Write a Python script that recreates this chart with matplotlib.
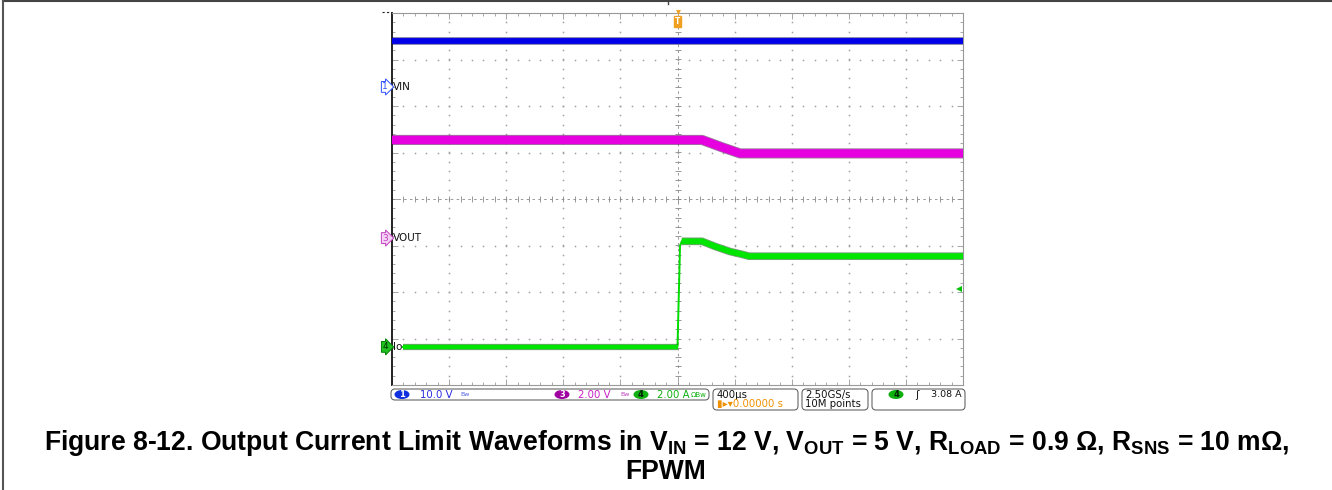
import numpy as np
import matplotlib.pyplot as plt
from matplotlib.patches import FancyBboxPatch, Ellipse
from matplotlib.lines import Line2D
import matplotlib.transforms as mtransforms

plt.rcParams['font.family'] = ['DejaVu Sans']
plt.rcParams['mathtext.fontset'] = 'custom'
plt.rcParams['mathtext.rm'] = 'Liberation Sans:bold'
plt.rcParams['mathtext.it'] = 'Liberation Sans:bold'
plt.rcParams['mathtext.bf'] = 'Liberation Sans:bold'

# time in us (400 us/div, trigger at 0); traces in screen divisions
vin_t = [-2000, 2000]
vin = [3.40, 3.40]

vout_t = [-2000, 172, 305, 438, 2000]
vout = [1.27, 1.27, 1.12, 0.98, 0.98]

io_t = [-1925, 0, 8, 18, 30, 172, 263, 368, 452, 500, 2000]
io = [-3.18, -3.18, -2.2, -1.0, -0.91, -0.91, -1.02, -1.13, -1.19, -1.23, -1.23]

ch_names = ['1', '3', '4']
ch_labels = ['VIN', 'VOUT', 'Io']
ch_gnd = [2.41, -0.84, -3.18]
trig_level = -1.94

W, H = 1332, 490
fig = plt.figure(figsize=(W / 100, H / 100), dpi=100)
ax = fig.add_axes([392 / W, 1 - 385 / H, (963 - 392) / W, (385 - 13) / H])
ax.set_xlim(-2000, 2000)
ax.set_ylim(-4, 4)

# graticule
grid_c = '#a0a0a0'
xmin_ = np.arange(-2000, 2001, 80)
ymin_ = np.arange(-4, 4.01, 0.2)
for gy in range(-3, 4):
    if gy == 0:
        continue
    ax.plot(xmin_, np.full_like(xmin_, gy, dtype=float), ls='none', marker='s', ms=1.1, color=grid_c, mew=0)
for gx in range(-1600, 2000, 400):
    if gx == 0:
        continue
    ax.plot(np.full_like(ymin_, gx), ymin_, ls='none', marker='s', ms=1.1, color=grid_c, mew=0)
ax.axhline(0, color='#888888', lw=0.6, ls=(0, (3, 4)))
ax.axvline(0, color='#888888', lw=0.6, ls=(0, (3, 4)))
ax.plot(xmin_, np.zeros_like(xmin_, dtype=float), ls='none', marker='|', ms=4, mew=0.6, color='#888888')
ax.plot(np.zeros_like(ymin_), ymin_, ls='none', marker='_', ms=4, mew=0.6, color='#888888')

ax.set_xticks(np.arange(-2000, 2001, 400))
ax.set_yticks(np.arange(-4, 5, 1))
ax.set_xticks(xmin_, minor=True)
ax.set_yticks(ymin_, minor=True)
ax.tick_params(which='both', direction='in', top=True, right=True, labelbottom=False, labelleft=False,
               color='#999999', width=0.6)
ax.tick_params(which='major', length=4)
ax.tick_params(which='minor', length=2.5)
for s in ['top', 'right', 'bottom']:
    ax.spines[s].set_color('#999999')
    ax.spines[s].set_linewidth(0.8)
ax.spines['left'].set_color('#222222')
ax.spines['left'].set_linewidth(1.4)


def band(t, y, color, edge, lw, z):
    ax.plot(t, y, color=edge, lw=lw + 1.3, alpha=0.55, solid_capstyle='butt', solid_joinstyle='round', zorder=z)
    ax.plot(t, y, color=color, lw=lw, solid_capstyle='butt', solid_joinstyle='round', zorder=z + 0.1)


band(vin_t, vin, '#0000e8', '#000060', 4.2, 3)
band(vout_t, vout, '#e600e0', '#500050', 6.0, 3)

io_t_a = np.array(io_t)
io_a = np.array(io)
pre = io_t_a <= 0
post = io_t_a >= 30
ax.plot(io_t_a, io_a, color='#00dd00', lw=1.4, zorder=3)
band(io_t_a[pre], io_a[pre], '#00e600', '#005000', 3.2, 3)
band(io_t_a[post], io_a[post], '#00e600', '#005000', 4.2, 3)

# trigger level arrow on right edge
ax.plot([1975], [trig_level], marker='<', ms=4.5, color='#00c000', mew=0, clip_on=False, zorder=5)

# channel ground markers
blend = mtransforms.blended_transform_factory(ax.transAxes, ax.transData)
mk_style = [('#3050ff', 'white', '#3050ff'), ('#c040c0', '#f4d0f4', '#c040c0'), ('#008000', '#20c020', '#003000')]
for name, lab, g, (ec, fc, tc) in zip(ch_names, ch_labels, ch_gnd, mk_style):
    ax.text(-0.012, g, name, transform=blend, ha='center', va='center', fontsize=6.5, color=tc,
            bbox=dict(boxstyle='rarrow,pad=0.1', fc=fc, ec=ec, lw=0.7), clip_on=False, zorder=6)
    ax.text(0.0015, g, lab, transform=blend, ha='left', va='center', fontsize=7.5, color='#111111', zorder=6)

# trigger position marker at top
blend_x = mtransforms.blended_transform_factory(ax.transData, ax.transAxes)
ax.plot([0], [1.002], marker='v', ms=3.5, color='#f0a020', mew=0, transform=blend_x, clip_on=False, zorder=6)
ax.text(0, 0.978, 'T', transform=blend_x, ha='center', va='center', fontsize=5.5, color='white', fontweight='bold',
        bbox=dict(boxstyle='square,pad=0.12', fc='#f0a020', ec='#f0a020'), zorder=6)

# overlay in pixel coordinates for the status bar and page frame
ov = fig.add_axes([0, 0, 1, 1], facecolor='none')
ov.set_xlim(0, W)
ov.set_ylim(H, 0)
ov.axis('off')

ov.add_line(Line2D([3, W], [1.5, 1.5], color='#444444', lw=1.5))
ov.add_line(Line2D([3, 3], [1.5, H], color='#555555', lw=1.5))
ov.add_line(Line2D([668, 668], [0, 4], color='#444444', lw=1.0))
ov.add_line(Line2D([382, 391], [12, 12], color='#222222', lw=0.8, ls=(0, (2, 2))))


def rbox(x0, y0, x1, y1):
    ov.add_patch(FancyBboxPatch((x0, y0), x1 - x0, y1 - y0, boxstyle='round,pad=0,rounding_size=4',
                                fc='white', ec='#666666', lw=0.8))


def badge(x, y, n, fc, tc):
    ov.add_patch(Ellipse((x, y), 15, 9, fc=fc, ec='none'))
    ov.text(x, y, n, ha='center', va='center', fontsize=6, color=tc, fontweight='bold')


fs = 7.3
rbox(391, 389, 709, 400)
badge(402, 394.5, '1', '#1030e0', 'white')
ov.text(420, 394.5, '10.0 V', color='#2a2ae0', fontsize=fs, va='center')
ov.text(460, 394.5, 'Bw', color='#5060e0', fontsize=4.5, va='center')
badge(562, 394.5, '3', '#a000a0', 'white')
ov.text(578, 394.5, '2.00 V', color='#c820c8', fontsize=fs, va='center')
ov.text(620, 394.5, 'Bw', color='#c040c0', fontsize=4.5, va='center')
badge(641, 394.5, '4', '#10b010', '#002000')
ov.text(657, 394.5, '2.00 A', color='#10b010', fontsize=fs, va='center')
ov.text(691, 394.5, 'ΩBw', color='#10b010', fontsize=5, va='center')

rbox(713, 389, 798, 410)
ov.text(717, 395, '400µs', color='#111111', fontsize=fs, va='center')
ov.text(717, 404, '▮▸▾0.00000 s', color='#f09000', fontsize=fs, va='center')

rbox(802, 389, 868, 410)
ov.text(805, 395, '2.50GS/s', color='#111111', fontsize=fs, va='center')
ov.text(805, 404, '10M points', color='#111111', fontsize=fs, va='center')

rbox(872, 389, 965, 410)
badge(896, 394.5, '4', '#10b010', '#002000')
ov.text(915, 394.5, 'ʃ', color='#111111', fontsize=fs, va='center')
ov.text(962, 394.5, '3.08 A', color='#111111', fontsize=6.8, va='center', ha='right')

# caption
cap1 = (r'Figure 8-12. Output Current Limit Waveforms in V$_{\mathrm{IN}}$ = 12 V, V$_{\mathrm{OUT}}$ = 5 V, '
        r'R$_{\mathrm{LOAD}}$ = 0.9 Ω, R$_{\mathrm{SNS}}$ = 10 mΩ,')
ov.text(W / 2 + 1, 443, cap1, ha='center', va='center', fontsize=19.1, fontweight='bold',
        family='Liberation Sans', color='#000000')
ov.text(W / 2, 472, 'FPWM', ha='center', va='center', fontsize=19.1, fontweight='bold',
        family='Liberation Sans', color='#000000')

fig.savefig('out.png', dpi=100)
